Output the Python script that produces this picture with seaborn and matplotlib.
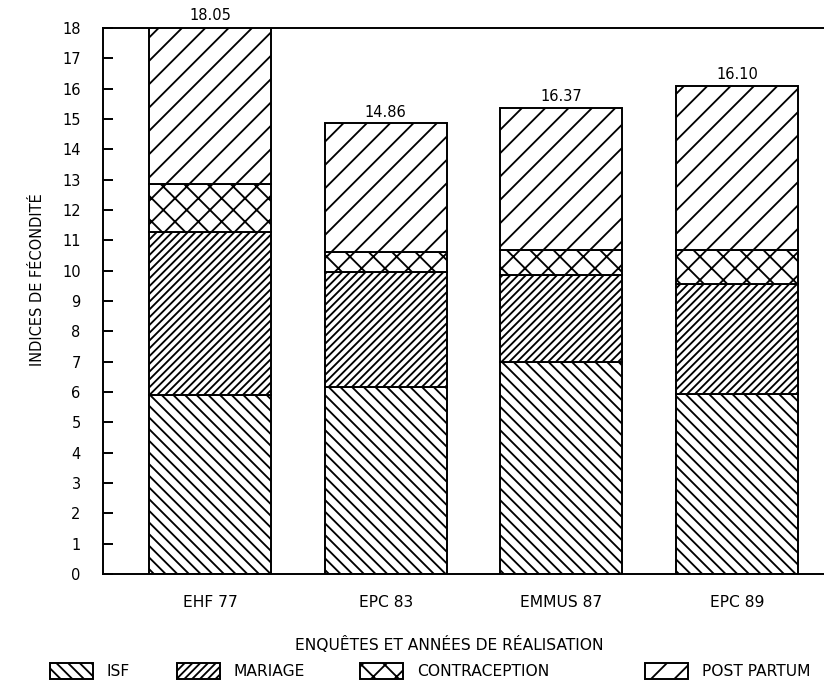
import pandas as pd
import seaborn as sns
import matplotlib.pyplot as plt
from matplotlib.patches import Patch

# values
categories = ["EHF 77", "EPC 83", "EMMUS 87", "EPC 89"]
isf = [5.91, 6.18, 6.98, 5.92]
mariage = [5.37, 3.79, 2.88, 3.64]
contraception = [1.58, 0.65, 0.82, 1.12]
post_partum = [5.19, 4.24, 4.69, 5.42]
total_labels = ["18.05", "14.86", "16.37", "16.10"]

series_names = ["ISF", "MARIAGE", "CONTRACEPTION", "POST PARTUM"]
# hatch spacing at 140 dpi is about dpi / (3 * count)
hatches = ["\\\\\\\\", "//////", "xx", "//"]

sns.set_style("white")
plt.rcParams['font.family'] = ['DejaVu Sans']
plt.rcParams['hatch.linewidth'] = 0.95
plt.rcParams['hatch.color'] = 'black'
for k in ['text.color', 'xtick.color', 'ytick.color', 'axes.labelcolor']:
    plt.rcParams[k] = 'black'

df = pd.DataFrame({"Enquete": categories, "ISF": isf, "MARIAGE": mariage,
                   "CONTRACEPTION": contraception, "POST PARTUM": post_partum})

fig = plt.figure(figsize=(824 / 140, 685 / 140), dpi=140)
ax = fig.add_axes([103 / 824, 1 - 574 / 685, 1 - 103 / 824, (574 - 28) / 685])

bottom = pd.Series([0.0] * len(df))
for name, h in zip(series_names, hatches):
    sns.barplot(data=df, x="Enquete", y=name, bottom=bottom.values, color="white",
                edgecolor="black", linewidth=1.0, hatch=h, width=0.695,
                errorbar=None, ax=ax)
    bottom = bottom + df[name]

for i, lab in enumerate(total_labels):
    ax.text(i, bottom[i] + 0.12, lab, ha="center", va="bottom", fontsize=7.5, clip_on=False)

ax.set_xlim(-0.609, 3.495)
ax.set_ylim(0, 18)
ax.set_yticks(range(0, 19))
ax.set_xlabel("")
ax.set_ylabel("")
ax.tick_params(axis="y", direction="in", length=5, width=1, pad=11.5, labelsize=7.5, left=True)
ax.tick_params(axis="x", length=0, pad=11, labelsize=8)
for s in ["left", "bottom", "top"]:
    ax.spines[s].set_linewidth(1.0)
    ax.spines[s].set_color("black")
ax.spines["right"].set_visible(False)

fig.text(38 / 824, 1 - 280 / 685, "INDICES DE FÉCONDITÉ", rotation=90,
         ha="center", va="center", fontsize=7.5)
fig.text(449 / 824, 1 - 644 / 685, "ENQUÊTES ET ANNÉES DE RÉALISATION",
         ha="center", va="center", fontsize=8)

# legend items placed one by one like the original
leg_x = [50, 177, 360, 645]
for name, h, lx in zip(series_names, hatches, leg_x):
    handle = Patch(facecolor="white", edgecolor="black", hatch=h, linewidth=1.0)
    fig.legend([handle], [name], loc="center left",
               bbox_to_anchor=(lx / 824, 1 - 671 / 685), frameon=False,
               fontsize=8, handlelength=2.75, handleheight=1.2,
               handletextpad=0.9, borderpad=0, borderaxespad=0)

fig.savefig("out.png", dpi=140)
